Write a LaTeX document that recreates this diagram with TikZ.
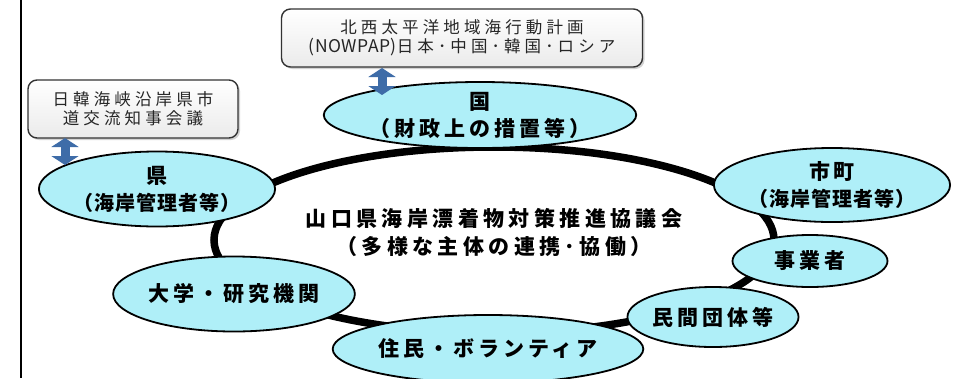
\documentclass[tikz,border=0pt]{standalone}
\usepackage{fontspec}
\usetikzlibrary{shapes.geometric,shadows,arrows.meta}
\newfontfamily\jpn{Noto Sans CJK JP}[LetterSpace=19]
\newfontfamily\jptitle{Noto Sans CJK JP}[LetterSpace=21]
\newfontfamily\jpnarrow{Noto Sans CJK JP}[LetterSpace=5]
\newfontfamily\jpbox{Noto Sans CJK JP}[LetterSpace=25]
\newfontfamily\latbox{Noto Sans CJK JP}[LetterSpace=3]
\definecolor{nodecyan}{RGB}{175,239,248}
\definecolor{arrowblue}{RGB}{62,108,168}
\begin{document}
\begin{tikzpicture}[x=1pt,y=-1pt,
  party/.style={ellipse, draw, line width=1.8pt, fill=nodecyan, inner sep=0pt,
    align=center, font=\jpn\bfseries\fontsize{21}{27}\selectfont},
  ringshape/.style={ellipse, draw, line width=7.5pt, inner sep=0pt,
    minimum width=560pt, minimum height=186pt},
  infobox/.style={draw=black!80, line width=1.4pt, rounded corners=9pt,
    top color=white, bottom color=black!8, inner sep=0pt, align=center,
    font=\jpbox\fontsize{16.5}{19.5}\selectfont, text=black!85,
    drop shadow={shadow xshift=2pt, shadow yshift=-2pt, opacity=.35}},
  titletext/.style={align=center, inner sep=0pt,
    font=\jptitle\bfseries\fontsize{21}{28}\selectfont},
  dbl/.style={arrowblue, line width=9pt,
    {Triangle[width=27pt,length=9pt]}-{Triangle[width=27pt,length=9pt]}}
]
\useasboundingbox (0,0) rectangle (969,378);
\fill[white] (0,0) rectangle (969,378);
\draw[line width=2pt] (21,0) -- (21,378);

\node[ringshape] (ring) at (494,240) {};

\node[party, minimum width=211pt, minimum height=66pt] (kuni) at (480,115) {国\\（財政上の措置等）};
\node[party, minimum width=233pt, minimum height=74pt] (shicho) at (832,185) {市町\\{\jpnarrow\fontsize{20}{24}\selectfont（海岸管理者等）}};
\node[party, minimum width=155pt, minimum height=52pt] (jigyo) at (810,261) {事業者};
\node[party, minimum width=167pt, minimum height=60pt] (minkan) at (713,317) {民間団体等};
\node[party, minimum width=290pt, minimum height=68pt] (jumin) at (488,349) {住民・ボランティア};
\node[party, minimum width=205pt, minimum height=75pt] (daigaku) at (234,294) {大学・研究機関};
\node[party, minimum width=235pt, minimum height=75pt] (ken) at (157,189) {県\\{\jpnarrow\fontsize{20}{24}\selectfont（海岸管理者等）}};

\node[titletext] (title) at (494,233) {山口県海岸漂着物対策推進協議会\\（多様な主体の連携･協働）};

\node[infobox, minimum width=361pt, minimum height=58pt] (nowpap) at (462,38)
  {北西太平洋地域海行動計画\\{\latbox\fontsize{17.5}{19.5}\selectfont (NOWPAP)}日本･中国･韓国･ロシア};
\node[infobox, minimum width=210pt, minimum height=58pt] (nikkan) at (133,109)
  {日韓海峡沿岸県市\\道交流知事会議};

\coordinate (a1s) at (382,68);
\coordinate (a1e) at (382,95);
\coordinate (a2s) at (65,138);
\coordinate (a2e) at (65,165);
\draw[dbl] (a1s) -- (a1e);
\draw[dbl] (a2s) -- (a2e);
\end{tikzpicture}
\end{document}
